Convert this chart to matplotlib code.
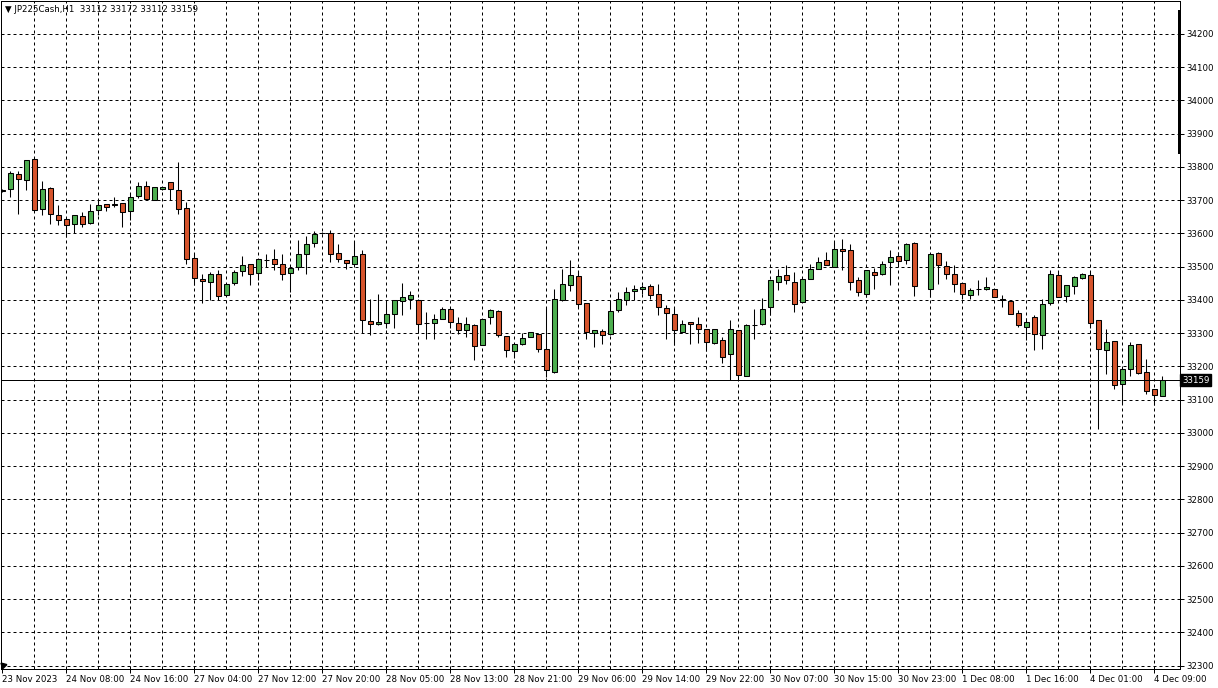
import numpy as np
import matplotlib
matplotlib.use("Agg")
import matplotlib.pyplot as plt
from matplotlib.patches import Rectangle

# ---------------- data (H1 candles, JP225Cash) ----------------
nan = float("nan")
opens = [33730, 33734, 33780, 33761, 33824, 33674, 33737, 33656, 33644, 33630,
         33653, 33632, 33671, 33689, 33688, 33692, 33668, 33712, 33743, 33701,
         33734, 33754, 33730, 33677, 33527, 33463, 33454, 33478, 33415, 33451,
         33487, 33508, 33481, 33521, 33523, 33508, 33481, 33499, 33538, 33571,
         33600, 33600, 33541, 33520, 33508, 33538, 33337, 33327, 33330, 33357,
         33396, 33404, 33399, 33331, 33330, 33344, 33372, 33330, 33311, 33324,
         33264, 33348, 33366, 33291, 33247, 33267, 33288, 33297, 33252, 33183,
         33400, 33444, 33471, 33390, 33300, 33306, 33297, 33369, 33399, 33426,
         33432, 33441, 33417, 33375, 33357, 33303, 33333, 33327, 33312, 33270,
         33279, 33237, 33309, 33171, 33326, 33327, 33378, 33453, 33474, 33453,
         33393, 33462, 33492, 33519, 33498, 33552, 33549, 33459, 33417, 33483,
         33477, 33513, 33531, 33519, 33570, nan, 33432, 33540, 33501, 33477,
         33450, 33414, 33432, 33432, 33432, 33401, 33396, 33360, 33318, 33348,
         33294, 33390, 33474, 33411, 33441, 33465, 33474, 33339, 33249, 33276,
         33147, 33192, 33267, 33183, 33132, 33112]
highs = [33733, 33787, 33789, 33820, 33827, 33758, 33741, 33686, 33646, 33656,
         33665, 33690, 33702, 33689, 33710, 33692, 33722, 33756, 33758, 33740,
         33741, 33754, 33816, 33696, 33540, 33477, 33485, 33491, 33448, 33491,
         33533, 33508, 33523, 33538, 33554, 33539, 33497, 33581, 33591, 33606,
         33605, 33609, 33569, 33520, 33578, 33550, 33403, 33418, 33397, 33399,
         33451, 33427, 33402, 33363, 33358, 33378, 33375, 33348, 33348, 33327,
         33342, 33372, 33369, 33291, 33267, 33302, 33303, 33300, 33378, 33432,
         33494, 33519, 33486, 33390, 33309, 33312, 33396, 33423, 33439, 33445,
         33445, 33447, 33447, 33384, 33378, 33339, 33333, 33348, 33312, 33312,
         33288, 33339, 33309, 33327, 33372, 33405, 33459, 33492, 33504, 33483,
         33462, 33507, 33528, 33543, 33573, 33582, 33567, 33468, 33489, 33495,
         33516, 33549, 33543, 33570, 33573, nan, 33537, 33543, 33516, 33504,
         33450, 33435, 33459, 33468, 33432, 33414, 33399, 33369, 33345, 33354,
         33402, 33489, 33486, 33444, 33471, 33480, 33486, 33339, 33312, 33276,
         33192, 33273, 33267, 33222, 33132, 33172]
lows = [33725, 33709, 33658, 33730, 33670, 33655, 33629, 33625, 33590, 33602,
        33620, 33628, 33657, 33667, 33680, 33620, 33640, 33706, 33701, 33701,
        33732, 33702, 33658, 33509, 33446, 33391, 33401, 33401, 33411, 33446,
        33473, 33446, 33461, 33500, 33491, 33461, 33423, 33490, 33479, 33559,
        33597, 33513, 33513, 33493, 33504, 33300, 33296, 33324, 33317, 33317,
        33356, 33372, 33300, 33282, 33282, 33342, 33317, 33297, 33288, 33219,
        33264, 33327, 33288, 33228, 33225, 33264, 33288, 33243, 33168, 33180,
        33397, 33426, 33378, 33282, 33258, 33267, 33294, 33363, 33384, 33399,
        33417, 33402, 33354, 33282, 33264, 33300, 33267, 33270, 33246, 33267,
        33210, 33159, 33159, 33171, 33282, 33324, 33354, 33429, 33447, 33363,
        33393, 33462, 33492, 33504, 33498, 33489, 33429, 33411, 33408, 33432,
        33474, 33444, 33504, 33507, 33411, nan, 33408, 33447, 33462, 33423,
        33402, 33402, 33414, 33429, 33408, 33378, 33357, 33318, 33279, 33249,
        33252, 33384, 33408, 33393, 33417, 33462, 33315, 33012, 33177, 33132,
        33087, 33171, 33177, 33117, 33084, 33112]
closes = [33728, 33783, 33764, 33820, 33671, 33734, 33660, 33642, 33626, 33656,
          33630, 33668, 33686, 33680, 33687, 33665, 33710, 33742, 33703, 33740,
          33740, 33734, 33674, 33523, 33466, 33457, 33478, 33412, 33448, 33485,
          33505, 33478, 33523, 33520, 33508, 33478, 33497, 33538, 33568, 33598,
          33601, 33538, 33523, 33511, 33532, 33340, 33328, 33333, 33357, 33399,
          33408, 33414, 33327, 33330, 33342, 33372, 33333, 33309, 33327, 33261,
          33342, 33369, 33294, 33249, 33267, 33285, 33303, 33252, 33189, 33404,
          33447, 33474, 33387, 33303, 33309, 33294, 33366, 33402, 33424, 33432,
          33438, 33414, 33378, 33360, 33309, 33327, 33327, 33312, 33273, 33312,
          33228, 33312, 33174, 33324, 33324, 33372, 33459, 33471, 33459, 33387,
          33462, 33492, 33513, 33504, 33552, 33546, 33453, 33423, 33489, 33474,
          33507, 33528, 33516, 33567, 33441, nan, 33537, 33504, 33477, 33447,
          33417, 33429, 33432, 33438, 33408, 33401, 33357, 33324, 33333, 33297,
          33387, 33477, 33408, 33444, 33468, 33477, 33330, 33252, 33273, 33144,
          33192, 33264, 33180, 33126, 33114, 33159]

x_labels = ["23 Nov 2023", "24 Nov 08:00", "24 Nov 16:00", "27 Nov 04:00",
            "27 Nov 12:00", "27 Nov 20:00", "28 Nov 05:00", "28 Nov 13:00",
            "28 Nov 21:00", "29 Nov 06:00", "29 Nov 14:00", "29 Nov 22:00",
            "30 Nov 07:00", "30 Nov 15:00", "30 Nov 23:00", "1 Dec 08:00",
            "1 Dec 16:00", "4 Dec 01:00", "4 Dec 09:00"]
price_ticks = list(range(32300, 34201, 100))
symbol = "JP225Cash,H1"
last_price = 33159

# ---------------- figure ----------------
W, H = 1218, 688
fig = plt.figure(figsize=(W / 100, H / 100), dpi=100)
ax = fig.add_axes([1 / W, (H - 669) / H, 1179 / W, 668 / H])

o = np.array(opens, float)
h = np.array(highs, float)
l = np.array(lows, float)
c = np.array(closes, float)
idx = np.arange(len(o))
ok = ~np.isnan(o)

green = "#4DAE4F"
red = "#D6542C"
up = c >= o
cols = np.where(up, green, red)
bottom = np.minimum(o, c)
height = np.maximum(np.abs(c - o), 1.5)

ax.vlines(idx[ok], l[ok], h[ok], color="black", lw=0.75, zorder=3)
ax.bar(idx[ok], height[ok], bottom=bottom[ok], width=0.58, color=cols[ok],
       edgecolor="black", linewidth=0.75, zorder=4)

ax.set_xlim((1 - 2.3) / 8, (1180 - 2.3) / 8)
ax.set_ylim(32290.2, 34299.2)

# grid
grid_kw = dict(color="black", lw=0.72, linestyle=(0, (3, 3)), zorder=1)
for p in price_ticks:
    ax.axhline(p, **grid_kw)
for gx in range(4, len(o) + 2, 4):
    ax.axvline(gx, **grid_kw)

# last price line
ax.axhline(last_price, color="black", lw=0.72, zorder=5)

# axes ticks
ax.yaxis.tick_right()
ax.set_yticks(price_ticks)
ax.set_yticklabels([str(p) for p in price_ticks])
ax.tick_params(axis="y", direction="out", length=3, width=0.72, pad=1.5,
               labelsize=6.2, colors="black")
xt = list(range(0, 8 * len(x_labels), 8))
ax.set_xticks(xt)
ax.set_xticklabels(x_labels)
for t in ax.get_xticklabels():
    t.set_horizontalalignment("left")
ax.tick_params(axis="x", direction="out", length=3, width=0.72, pad=1.5,
               labelsize=6.2, colors="black")
for s in ax.spines.values():
    s.set_linewidth(0.72)
    s.set_color("black")

# header
ax.text(4 / 1179, 1 - 9 / 668,
        "▼ " + symbol + "  " + f"{opens[-1]} {highs[-1]} {lows[-1]} {closes[-1]}",
        transform=ax.transAxes, fontsize=6.2, va="center", ha="left")

# last price box
ytxt = ax.transData.transform((0, last_price))[1]
fig.text(1182 / W, ytxt / H, f"{last_price}", color="white", fontsize=6.2,
         va="center", ha="left",
         bbox=dict(boxstyle="square,pad=0.2", fc="black", ec="black"))

# scroll bar marker at right edge
fig.add_artist(Rectangle((1177.5 / W, (H - 154) / H), 3 / W, 144 / H,
                         transform=fig.transFigure, fc="black", ec="none"))
# bottom-left small arrow
ax.plot([0.002], [0.006], marker=(3, 0, 45), color="black", ms=5,
        transform=ax.transAxes, clip_on=False)

fig.savefig("out.png", dpi=100)
